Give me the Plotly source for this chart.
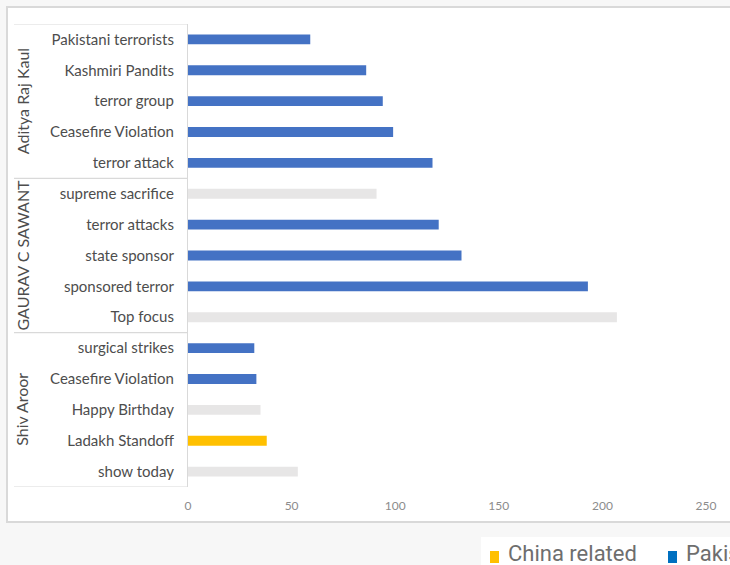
import plotly.graph_objects as go

# ---- data (top to bottom as displayed) ----
labels = ["Pakistani terrorists", "Kashmiri Pandits", "terror group", "Ceasefire Violation", "terror attack",
          "supreme sacrifice", "terror attacks", "state sponsor", "sponsored terror", "Top focus",
          "surgical strikes", "Ceasefire Violation", "Happy Birthday", "Ladakh Standoff", "show today"]
values = [59, 86, 94, 99, 118,
          91, 121, 132, 193, 207,
          32, 33, 35, 38, 53]
themes = ["Pakistan", "Pakistan", "Pakistan", "Pakistan", "Pakistan",
          "Other", "Pakistan", "Pakistan", "Pakistan", "Other",
          "Pakistan", "Pakistan", "Other", "China", "Other"]
groups = ["Aditya Raj Kaul", "GAURAV C SAWANT", "Shiv Aroor"]
group_sizes = [5, 5, 5]
x_ticks = [0, 50, 100, 150, 200, 250]
legend_labels = ["China related", "Pakistan related"]

theme_colors = {"Pakistan": "#4472C4", "China": "#FFC000", "Other": "#E7E6E6"}
legend_colors = ["#FFC000", "#0070C0"]

# ---- layout geometry (pixels) ----
W, H = 730, 565
L, R, T, B = 188, 706, 24, 487
PW, PH = R - L, B - T


def px(x):
    return (x - L) / PW


def py(y):
    return (B - y) / PH


ypos = list(range(len(labels)))

fig = go.Figure()
fig.add_trace(go.Bar(
    x=values, y=ypos, orientation="h", width=0.32,
    marker=dict(color=[theme_colors[t] for t in themes], line=dict(width=0)),
    showlegend=False, hoverinfo="x+text", text=labels, textposition="none",
))

shapes = []
# chart box
shapes.append(dict(type="rect", xref="paper", yref="paper", x0=px(7), x1=px(760), y0=py(522), y1=py(7),
                   fillcolor="white", line=dict(color="#D9D9D9", width=2), layer="below"))
# legend background
shapes.append(dict(type="rect", xref="paper", yref="paper", x0=px(481), x1=px(760), y0=py(580), y1=py(537),
                   fillcolor="white", line=dict(width=0), layer="below"))
# group separators
bounds = [-0.5]
acc = -0.5
for s in group_sizes:
    acc += s
    bounds.append(acc)
for b in bounds:
    shapes.append(dict(type="line", xref="paper", yref="y", x0=px(14), x1=0, y0=b, y1=b,
                       line=dict(color="#D9D9D9", width=1.2)))

annotations = []
start = 0
for g, s in zip(groups, group_sizes):
    annotations.append(dict(xref="paper", yref="y", x=px(22), y=start + (s - 1) / 2, text=g,
                            textangle=-90, showarrow=False, xanchor="center", yanchor="middle",
                            font=dict(family="Lato, Noto Sans", size=16, color="#4D4D4D")))
    start += s

# legend
leg_x = [490, 668]
for lx, lab, col in zip(leg_x, legend_labels, legend_colors):
    shapes.append(dict(type="rect", xref="paper", yref="paper", x0=px(lx), x1=px(lx + 9),
                       y0=py(563), y1=py(551), fillcolor=col, line=dict(width=0)))
    annotations.append(dict(xref="paper", yref="paper", x=px(lx + 16), y=py(553), text=lab,
                            showarrow=False, xanchor="left", yanchor="middle",
                            font=dict(family="Roboto", size=22, color="#6E6E6E")))

fig.update_layout(
    width=W, height=H,
    margin=dict(l=L, r=W - R, t=T, b=H - B, pad=0),
    paper_bgcolor="#F7F7F7", plot_bgcolor="rgba(0,0,0,0)",
    shapes=shapes, annotations=annotations,
    xaxis=dict(range=[0, 250], tickvals=x_ticks, showgrid=False, zeroline=False, showline=False,
               ticks="", tickfont=dict(family="Lato, Noto Sans", size=12, color="#8C8C8C"),
               ticklabelstandoff=10, fixedrange=True),
    yaxis=dict(range=[len(labels) - 0.5, -0.5], tickvals=ypos, ticktext=labels, showgrid=False,
               zeroline=False, showline=True, linecolor="#D9D9D9", linewidth=1.2, ticks="",
               tickfont=dict(family="Lato, Noto Sans", size=15, color="#4D4D4D"),
               ticklabelstandoff=10, fixedrange=True),
)

fig.write_html("out.html", config={"displayModeBar": False},
               post_script="document.body.style.margin='0';document.body.style.overflow='hidden';")
